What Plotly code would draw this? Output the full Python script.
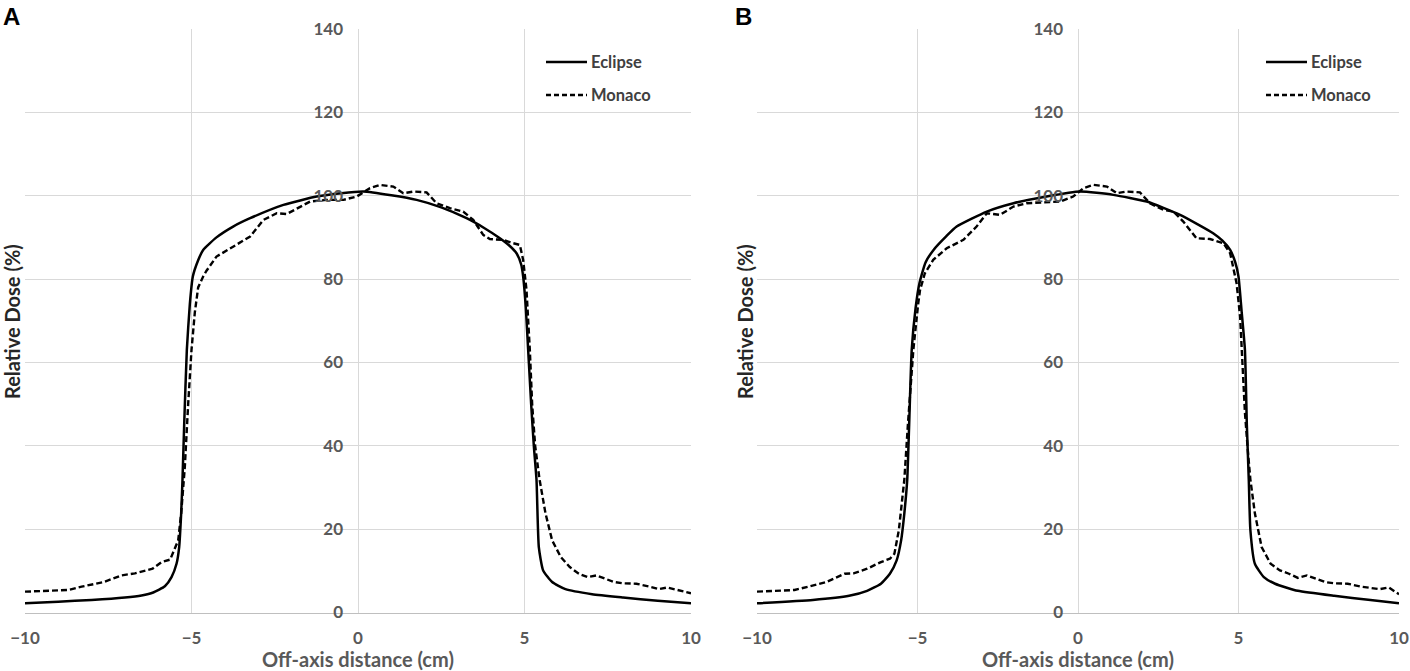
import plotly.graph_objects as go

# ---------------- data ----------------
a_eclipse_x = [-10, -9, -8, -7, -6.5, -6.15, -5.8, -5.6, -5.45, -5.37, -5.31, -5.27, -5.22, -5.14, -5.05, -4.96,
               -4.8, -4.65, -4.25, -3.75, -3.24, -2.24, -1.24, -0.5, 0.16, 1.0, 1.76, 2.5, 3.26, 3.8, 4.26, 4.55,
               4.76, 4.9, 4.96, 5.04, 5.11, 5.2, 5.28, 5.36, 5.43, 5.56, 5.83, 6.23, 7.03, 7.96, 9.0, 10]
a_eclipse_y = [2.2, 2.6, 3.0, 3.6, 4.1, 4.8, 6.3, 8.5, 11.7, 15.7, 23.8, 32, 45, 63, 74, 80.6,
               84.5, 87, 90, 92.6, 94.6, 97.8, 99.8, 100.6, 101, 100.1, 99, 97.2, 94.6, 92.2, 89.8, 88,
               86.2, 83.5, 80.6, 73, 63, 50, 40, 31.9, 15.7, 10.1, 7.3, 5.6, 4.4, 3.6, 2.8, 2.2]

a_monaco_x = [-10, -9.3, -8.7, -8.3, -7.64, -7.1, -6.7, -6.17, -5.9, -5.64, -5.5, -5.4, -5.31, -5.2, -5.1, -5.0,
              -4.9, -4.8, -4.65, -4.58, -4.55, -4.25, -3.75, -3.24, -2.84, -2.44, -2.14, -1.74, -1.44, -0.94,
              -0.44, -0.04, 0.36, 0.66, 1.06, 1.36, 1.66, 2.06, 2.36, 2.76, 3.16, 3.46, 3.76, 3.96, 4.36, 4.66,
              4.86, 4.96, 5.06, 5.16, 5.23, 5.32, 5.45, 5.63, 5.83, 6.09, 6.36, 6.63, 6.89, 7.16, 7.43, 7.69,
              7.96, 8.36, 8.76, 9.03, 9.29, 9.56, 10]
a_monaco_y = [5.0, 5.2, 5.4, 6.2, 7.3, 8.9, 9.4, 10.5, 12.1, 12.7, 15.3, 17.3, 23.8, 35, 50, 63,
              72, 78, 80.6, 81.5, 82, 85.4, 87.8, 90.2, 94.2, 95.8, 95.6, 97.4, 98.6, 99,
              99, 99.8, 101.8, 102.6, 102.2, 100.6, 101, 100.8, 98.2, 97, 96.2, 94.2, 90.6, 89.6, 89.4, 88.6,
              88.2, 84.6, 77.4, 63, 50, 40, 32, 23.8, 17.3, 13.3, 10.9, 9.3, 8.5, 8.9, 8.1, 7.3,
              7.0, 6.9, 6.2, 5.6, 6.0, 5.4, 4.6]

b_eclipse_x = [-10, -8.26, -7.13, -6.57, -6.14, -5.86, -5.65, -5.51, -5.41, -5.32, -5.26, -5.18, -5.06, -4.94,
               -4.75, -4.5, -4.1, -3.78, -2.84, -2.01, -0.98, 0.06, 1.1, 2.14, 3.18, 4.21, 4.5, 4.74, 4.9, 5.0,
               5.1, 5.2, 5.26, 5.32, 5.37, 5.51, 5.79, 6.14, 6.85, 7.98, 9.11, 10]
b_eclipse_y = [2.2, 3.0, 4.0, 5.2, 6.9, 9.3, 12.5, 17.3, 23.8, 31.9, 45, 63, 73, 79,
               84, 87, 90.3, 92.6, 96.2, 98.2, 99.8, 101, 100.2, 98.6, 95.4, 91, 89.2, 87, 84, 80.6,
               72, 63, 45, 31.9, 19.8, 11.7, 8.5, 6.9, 5.2, 4.0, 3.0, 2.2]

b_monaco_x = [-10, -8.83, -8.4, -7.84, -7.27, -6.99, -6.57, -6.14, -5.86, -5.72, -5.58, -5.48, -5.41, -5.3,
              -5.13, -4.98, -4.92, -4.77, -4.51, -4.09, -3.57, -3.16, -2.84, -2.43, -2.01, -1.6, -1.18, -0.56,
              -0.15, 0.17, 0.48, 0.9, 1.21, 1.52, 1.93, 2.24, 2.66, 2.97, 3.28, 3.69, 4.11, 4.53, 4.74, 4.94,
              5.05, 5.1, 5.2, 5.3, 5.37, 5.51, 5.72, 6.0, 6.29, 6.57, 6.85, 7.13, 7.42, 7.7, 7.98, 8.4, 8.83,
              9.11, 9.39, 9.68, 10]
b_monaco_y = [5.0, 5.4, 6.2, 7.3, 9.3, 9.4, 10.5, 12.1, 12.9, 14.1, 19.8, 27.8, 31.9, 45,
              63, 74, 77.4, 81.4, 84.6, 87.4, 89.4, 92.6, 95.8, 95.4, 97.4, 98.2, 98.4, 98.6,
              99.8, 101.8, 102.6, 102.2, 100.6, 101, 100.8, 98.2, 96.6, 96.2, 93.8, 89.8, 89.6, 88.6, 86.2, 79,
              71, 63, 48, 38, 31.9, 23.8, 15.7, 11.7, 10.1, 9.3, 8.3, 8.9, 8.1, 7.3, 7.0, 6.9, 6.2,
              5.9, 5.6, 6.0, 4.4]

x_ticks = [-10, -5, 0, 5, 10]
y_ticks = [0, 20, 40, 60, 80, 100, 120, 140]
series_names = ["Eclipse", "Monaco"]
panel_labels = ["A", "B"]
x_title = "Off-axis distance (cm)"
y_title = "Relative Dose (%)"

# ---------------- figure ----------------
W, H = 1410, 671
FONT = "Lato"
GREY = "#595959"
GRID = "#d9d9d9"

def fx(px):   # page pixel -> paper x
    return px / W

def fy(py):   # page pixel -> paper y
    return 1 - py / H

fig = go.Figure()

solid = dict(color="black", width=2.5, shape="spline", smoothing=0.5)
dashed = dict(color="black", width=2.4, dash="6px,3px")

fig.add_trace(go.Scatter(x=a_eclipse_x, y=a_eclipse_y, mode="lines", name=series_names[0],
                         line=solid, xaxis="x", yaxis="y", showlegend=False))
fig.add_trace(go.Scatter(x=a_monaco_x, y=a_monaco_y, mode="lines", name=series_names[1],
                         line=dashed, xaxis="x", yaxis="y", showlegend=False))
fig.add_trace(go.Scatter(x=b_eclipse_x, y=b_eclipse_y, mode="lines", name=series_names[0],
                         line=solid, xaxis="x2", yaxis="y2", showlegend=False))
fig.add_trace(go.Scatter(x=b_monaco_x, y=b_monaco_y, mode="lines", name=series_names[1],
                         line=dashed, xaxis="x2", yaxis="y2", showlegend=False))

# pixel geometry (page pixels)
a_x0, a_x1 = 25, 691
b_x0, b_x1 = 757, 1399
y_top, y_bot = 29, 612.5
ydom = [fy(y_bot), fy(y_top)]
a_zero = (a_x0 + a_x1) / 2
b_zero = (b_x0 + b_x1) / 2

def xaxis_cfg(p0, p1, yname):
    return dict(domain=[fx(p0), fx(p1)], range=[-10, 10], tickvals=x_ticks, anchor=yname,
                showgrid=True, gridcolor=GRID, gridwidth=1, zeroline=False,
                showline=True, linecolor="#bfbfbf", linewidth=1,
                ticks="", ticklabelstandoff=10, automargin=False,
                tickfont=dict(family=FONT, size=17, color=GREY, weight="bold"))

def yaxis_cfg(pos):
    return dict(domain=ydom, range=[0, 140], tickvals=y_ticks, anchor="free", position=pos,
                showgrid=True, gridcolor=GRID, gridwidth=1, zeroline=False,
                showline=False, ticks="", ticklabelstandoff=15, automargin=False,
                tickfont=dict(family=FONT, size=17, color=GREY, weight="bold"))

fig.update_layout(
    width=W, height=H, margin=dict(l=0, r=0, t=0, b=0, pad=0, autoexpand=False),
    paper_bgcolor="white", plot_bgcolor="white",
    xaxis=xaxis_cfg(a_x0, a_x1, "y"), yaxis=yaxis_cfg(fx(a_zero)),
    xaxis2=xaxis_cfg(b_x0, b_x1, "y2"), yaxis2=yaxis_cfg(fx(b_zero)),
    showlegend=False,
)

annotations = []
shapes = []
for lbl, px in zip(panel_labels, [11.5, 743]):
    annotations.append(dict(text=f"<b>{lbl}</b>", x=fx(px), y=fy(16.5), xref="paper", yref="paper",
                            showarrow=False, xanchor="center", yanchor="middle",
                            font=dict(family="Liberation Sans", size=24, color="black")))
for px in [a_zero, b_zero]:
    annotations.append(dict(text=f"<b>{x_title}</b>", x=fx(px), y=fy(659), xref="paper", yref="paper",
                            showarrow=False, xanchor="center", yanchor="middle",
                            font=dict(family=FONT, size=20, color=GREY)))
for px in [12, 745]:
    annotations.append(dict(text=f"<b>{y_title}</b>", x=fx(px), y=fy(322), xref="paper", yref="paper",
                            showarrow=False, xanchor="center", yanchor="middle", textangle=-90,
                            font=dict(family=FONT, size=20, color="#262626")))

# in-plot legends (line samples + labels)
for lx0 in [546, 1266]:
    for name, ly, style in [(series_names[0], 62, dict(color="black", width=2.5)),
                            (series_names[1], 95, dict(color="black", width=2.4, dash="5px,3px"))]:
        shapes.append(dict(type="line", xref="paper", yref="paper",
                           x0=fx(lx0), x1=fx(lx0 + 41), y0=fy(ly), y1=fy(ly), line=style))
        annotations.append(dict(text=f"<b>{name}</b>", x=fx(lx0 + 43), y=fy(ly), xref="paper", yref="paper",
                                showarrow=False, xanchor="left", yanchor="middle",
                                font=dict(family=FONT, size=16.5, color="#404040")))

fig.update_layout(annotations=annotations, shapes=shapes)

fig.write_html("out.html", config={"displayModeBar": False},
               post_script="document.body.style.margin='0px';document.body.style.overflow='hidden';")
